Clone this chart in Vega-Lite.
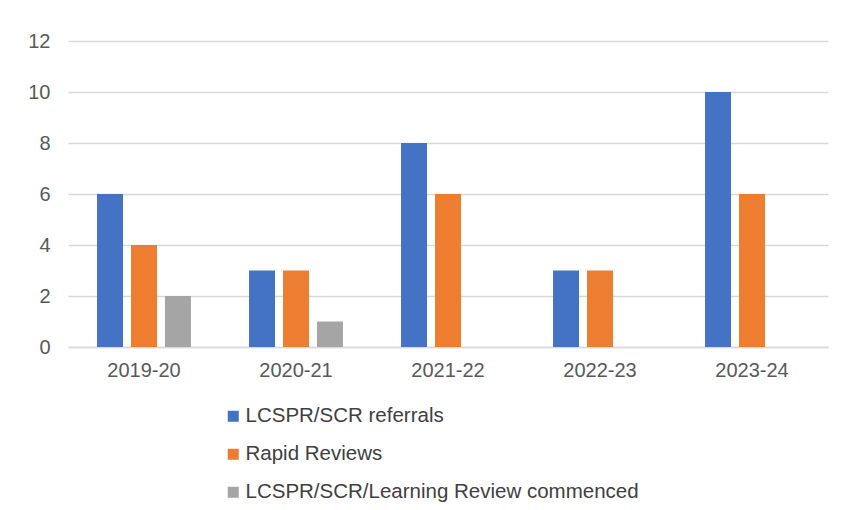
{
  "$schema": "https://vega.github.io/schema/vega-lite/v6.json",
  "autosize": {"type": "none"},
  "width": 760,
  "height": 306,
  "padding": {"left": 68, "top": 41, "right": 16, "bottom": 163},
  "background": "white",
  "config": {
    "font": "Liberation Sans",
    "view": {"stroke": null}
  },
  "data": {
    "values": [
      {"year": "2019-20", "series": "LCSPR/SCR referrals", "value": 6},
      {"year": "2019-20", "series": "Rapid Reviews", "value": 4},
      {"year": "2019-20", "series": "LCSPR/SCR/Learning Review commenced", "value": 2},
      {"year": "2020-21", "series": "LCSPR/SCR referrals", "value": 3},
      {"year": "2020-21", "series": "Rapid Reviews", "value": 3},
      {"year": "2020-21", "series": "LCSPR/SCR/Learning Review commenced", "value": 1},
      {"year": "2021-22", "series": "LCSPR/SCR referrals", "value": 8},
      {"year": "2021-22", "series": "Rapid Reviews", "value": 6},
      {"year": "2021-22", "series": "LCSPR/SCR/Learning Review commenced", "value": 0},
      {"year": "2022-23", "series": "LCSPR/SCR referrals", "value": 3},
      {"year": "2022-23", "series": "Rapid Reviews", "value": 3},
      {"year": "2022-23", "series": "LCSPR/SCR/Learning Review commenced", "value": 0},
      {"year": "2023-24", "series": "LCSPR/SCR referrals", "value": 10},
      {"year": "2023-24", "series": "Rapid Reviews", "value": 6},
      {"year": "2023-24", "series": "LCSPR/SCR/Learning Review commenced", "value": 0}
    ]
  },
  "mark": {"type": "bar"},
  "encoding": {
    "x": {
      "field": "year",
      "type": "nominal",
      "sort": null,
      "scale": {"paddingInner": 0.382, "paddingOuter": 0.191},
      "axis": {
        "title": null,
        "labelAngle": 0,
        "labelFontSize": 20,
        "labelColor": "#595959",
        "labelPadding": 13,
        "ticks": false,
        "domain": true,
        "domainColor": "#d9d9d9",
        "domainWidth": 1.5
      }
    },
    "xOffset": {
      "field": "series",
      "type": "nominal",
      "sort": ["LCSPR/SCR referrals", "Rapid Reviews", "LCSPR/SCR/Learning Review commenced"],
      "scale": {"paddingInner": 0.235, "paddingOuter": 0}
    },
    "y": {
      "field": "value",
      "type": "quantitative",
      "scale": {"domain": [0, 12]},
      "axis": {
        "title": null,
        "values": [0, 2, 4, 6, 8, 10, 12],
        "labelOverlap": false,
        "labelFontSize": 20,
        "labelColor": "#595959",
        "labelPadding": 18,
        "ticks": false,
        "domain": false,
        "gridColor": "#d9d9d9",
        "gridWidth": 1.5
      }
    },
    "color": {
      "field": "series",
      "type": "nominal",
      "sort": ["LCSPR/SCR referrals", "Rapid Reviews", "LCSPR/SCR/Learning Review commenced"],
      "scale": {
        "domain": ["LCSPR/SCR referrals", "Rapid Reviews", "LCSPR/SCR/Learning Review commenced"],
        "range": ["#4472C4", "#ED7D31", "#A5A5A5"]
      },
      "legend": {
        "title": null,
        "orient": "none",
        "legendX": 155,
        "legendY": 365,
        "direction": "vertical",
        "symbolType": "square",
        "symbolSize": 121,
        "symbolStrokeWidth": 0,
        "labelFontSize": 20.5,
        "labelColor": "#404040",
        "labelOffset": 2,
        "rowPadding": 17,
        "labelLimit": 600
      }
    }
  }
}
